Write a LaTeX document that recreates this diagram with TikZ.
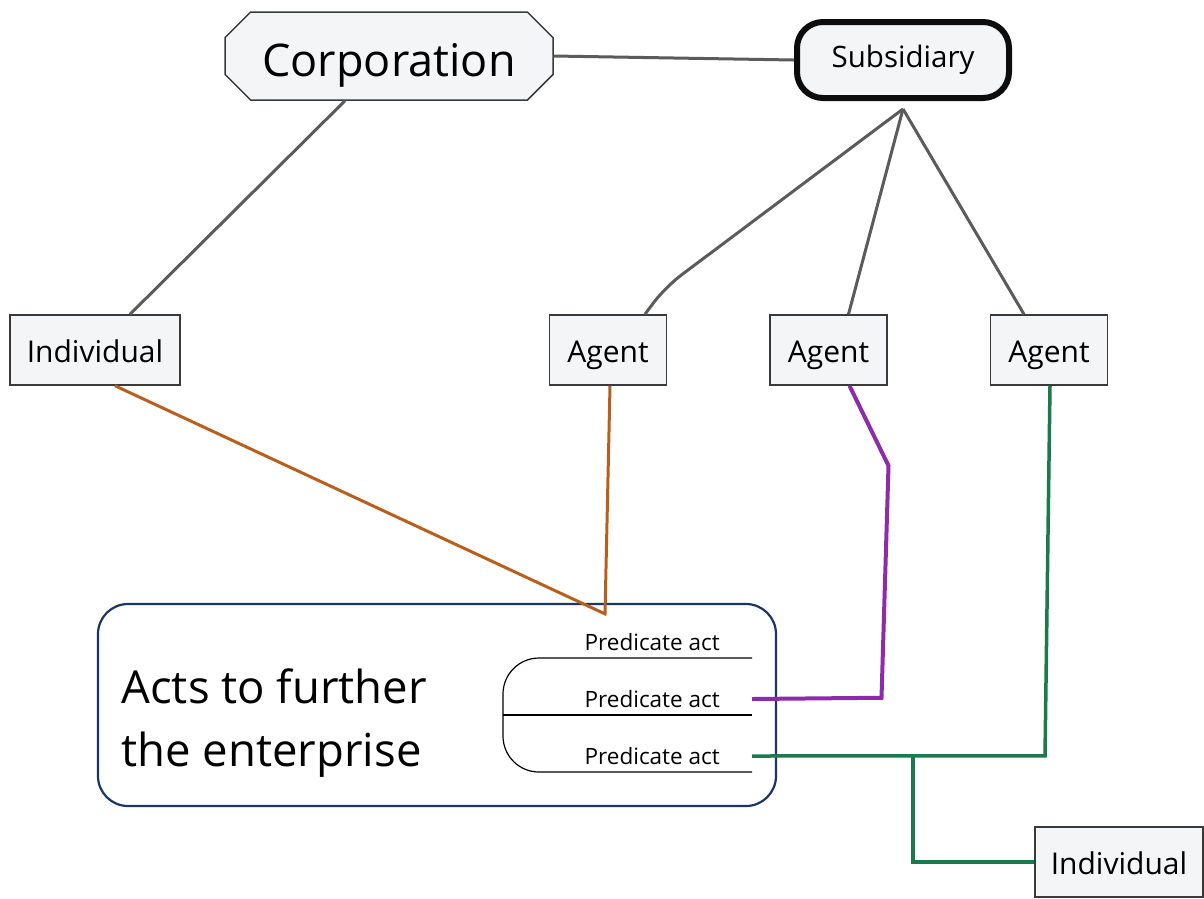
\documentclass[tikz,border=0pt]{standalone}
\usepackage{fontspec}
\setmainfont{Open Sans}
\usetikzlibrary{shapes.geometric, shapes.misc, arrows, positioning, calc}

\definecolor{boxfill}{HTML}{F4F5F6}
\definecolor{boxline}{HTML}{3A3A3A}
\definecolor{linkgray}{HTML}{5B5B5B}
\definecolor{actsblue}{HTML}{1C3566}
\definecolor{tieorangec}{HTML}{B95F1E}
\definecolor{tiepurplec}{HTML}{8E2BAA}
\definecolor{tiegreenc}{HTML}{1B7A4C}

\begin{document}
\begin{tikzpicture}[x=1pt, y=-1pt]
        \tikzstyle{corp} = [chamfered rectangle, chamfered rectangle xsep=22pt, minimum width=328pt, minimum height=88pt, draw=boxline, line width=1.5pt, fill=boxfill, text height=40pt, text depth=0pt, font=\fontsize{45}{52}\selectfont]
        \tikzstyle{sub} = [rectangle, rounded corners=26pt, minimum width=212pt, minimum height=76pt, draw=black!95, line width=6pt, fill=boxfill, font=\fontsize{29.5}{34}\selectfont]
        \tikzstyle{party} = [rectangle, minimum width=117pt, minimum height=70pt, draw=boxline, line width=1.5pt, fill=boxfill, text height=25pt, text depth=0pt, font=\fontsize{30}{34}\selectfont]
        \tikzstyle{acts} = [rectangle, rounded corners=30pt, minimum width=678pt, minimum height=202pt, draw=actsblue, line width=2.2pt, fill=white]
        \tikzstyle{pred} = [inner xsep=32pt, inner ysep=2pt, font=\fontsize{22.5}{26}\selectfont]
        \tikzstyle{link} = [line width=3pt, draw=linkgray]
        \tikzstyle{tieorange} = [line width=3pt, draw=tieorangec]
        \tikzstyle{tiepurple} = [line width=4pt, draw=tiepurplec]
        \tikzstyle{tiegreen} = [line width=3.5pt, draw=tiegreenc]

        \useasboundingbox (0,0) rectangle (1204,898);

        \node (corp) [corp] at (389,56) {Corporation};
        \node (sub) [sub] at (903,60) {Subsidiary};
        \node (ind) [party, minimum width=170pt] at (95,350) {Individual};
        \node (ag1) [party] at (608,350) {Agent};
        \node (ag2) [party, right=102pt of ag1] {Agent};
        \node (ag3) [party, right=102pt of ag2] {Agent};
        \node (ind2) [party, minimum width=168pt] at (1119,862) {Individual};

        \node (acts) [acts] at (437,705) {};
        \node (actstxt) [anchor=west, align=left, font=\fontsize{45.5}{63}\selectfont] at (118,723) {Acts to further\\the enterprise};
        \node (p1) [pred, anchor=east] at (752,642) {Predicate act};
        \node (p2) [pred, anchor=east] at (752,699) {Predicate act};
        \node (p3) [pred, anchor=east] at (752,756) {Predicate act};

        % slots of the predicate acts
        \draw [line width=1.2pt, rounded corners=36pt] ($(p1.east)+(0,16)$) -- ($(p1.east)+(-249,16)$) -- ($(p3.east)+(-249,16)$) -- ($(p3.east)+(0,16)$);
        \draw [line width=1.2pt] ($(p2.east)+(-249,16)$) -- ($(p2.east)+(0,16)$);

        \coordinate (hub) at ($(sub.south)+(0,8)$);
        \coordinate (apex) at ($(acts.north)+(168,11)$);
        \coordinate (split) at ($(p3.east)+(161,0)$);

        \draw [link] (corp.east) -- (sub.west);
        \draw [link] ($(corp.south)+(-44,0)$) -- ($(ind.north)+(35,0)$);
        \draw [link, rounded corners=20pt] (hub) -- ($(ag1.north)+(57,-27)$) -- ($(ag1.north)+(37,0)$);
        \draw [link] (hub) -- ($(ag2.north)+(20,0)$);
        \draw [link] (hub) -- ($(ag3.north)+(-25,0)$);

        \draw [tieorange] ($(ind.south)+(20,0)$) -- (apex) -- ($(ag1.south)+(2,0)$);
        \draw [tiepurple] ($(ag2.south)+(21,0)$) -- ($(ag2.south)+(60,80)$) -- ($(ag2.south)+(53,312)$) -- (p2.east);
        \draw [tiegreen] ($(ag3.south)+(1,0)$) -- ($(ag3.south)+(-4,370)$) -- (p3.east);
        \draw [tiegreen] (split) |- (ind2.west);
    \end{tikzpicture}
\end{document}
